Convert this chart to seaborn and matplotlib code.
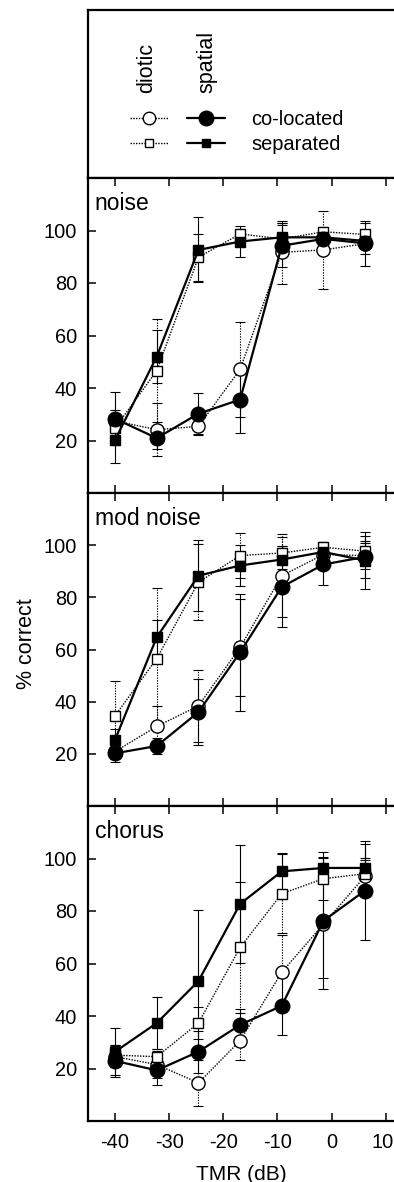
import numpy as np
import pandas as pd
import matplotlib
matplotlib.use("Agg")
import matplotlib.pyplot as plt
import matplotlib.transforms as mtransforms
import seaborn as sns
from matplotlib.lines import Line2D
from matplotlib.legend_handler import HandlerTuple

# ---------------- data ----------------
tmr = [-40, -32.3, -24.6, -16.9, -9.2, -1.5, 6.2]
panels = ["noise", "mod noise", "chorus"]

# noise
noise_col_diotic = [27.5, 24.1, 25.4, 47.1, 91.7, 92.6, 95.0]
noise_sep_diotic = [24.8, 46.6, 89.8, 98.7, 96.8, 99.5, 98.5]
noise_sep_spatial = [20.2, 52.0, 92.6, 95.8, 97.4, 97.4, 96.0]
noise_col_spatial = [28.3, 20.9, 30.2, 35.6, 94.2, 96.8, 95.1]
noise_col_diotic_err = [4, 10, 3, 18, 12, 15, 4]
noise_sep_diotic_err = [4, 19.5, 9, 2, 6, 2, 4.5]
noise_sep_spatial_err = [8.6, 10, 12.4, 6, 5.6, 3, 3]
noise_col_spatial_err = [10, 4, 8, 12.7, 8, 3, 8.5]

# modulated noise
mod_col_diotic = [20.9, 30.5, 38.4, 60.8, 88.3, 96.4, 96.0]
mod_sep_diotic = [34.6, 56.5, 85.8, 96.0, 97.0, 99.2, 97.7]
mod_sep_spatial = [25.4, 64.7, 88.3, 92.2, 94.5, 97.4, 94.1]
mod_col_spatial = [20.2, 23.0, 36.0, 58.9, 84.0, 92.6, 95.5]
mod_col_diotic_err = [3, 8, 13.7, 18.5, 16, 4, 5]
mod_sep_diotic_err = [13.2, 27, 14.6, 8.7, 6, 2, 4]
mod_sep_spatial_err = [4, 6.5, 13.5, 8, 5, 3, 10.9]
mod_col_spatial_err = [3.5, 3, 12.7, 22.4, 15.5, 7.7, 8]

# chorus
chorus_col_diotic = [24.5, 21.5, 14.5, 30.6, 56.7, 75.0, 93.3]
chorus_sep_diotic = [25.1, 24.5, 37.3, 66.1, 86.6, 92.3, 94.2]
chorus_sep_spatial = [26.4, 37.3, 53.3, 82.7, 95.1, 96.4, 96.4]
chorus_col_spatial = [22.9, 19.3, 26.4, 36.6, 43.9, 76.3, 87.8]
chorus_col_diotic_err = [4, 5, 8.7, 7.4, 14, 20.5, 6]
chorus_sep_diotic_err = [4, 3, 6, 25, 15, 8, 6]
chorus_sep_spatial_err = [9, 10, 27, 22.4, 7, 4, 9]
chorus_col_spatial_err = [6, 5.7, 8, 6, 11, 26, 18.8]

series_names = ["col_diotic", "sep_diotic", "sep_spatial", "col_spatial"]
values = {
    "noise": [noise_col_diotic, noise_sep_diotic, noise_sep_spatial, noise_col_spatial],
    "mod noise": [mod_col_diotic, mod_sep_diotic, mod_sep_spatial, mod_col_spatial],
    "chorus": [chorus_col_diotic, chorus_sep_diotic, chorus_sep_spatial, chorus_col_spatial],
}
errors = {
    "noise": [noise_col_diotic_err, noise_sep_diotic_err, noise_sep_spatial_err, noise_col_spatial_err],
    "mod noise": [mod_col_diotic_err, mod_sep_diotic_err, mod_sep_spatial_err, mod_col_spatial_err],
    "chorus": [chorus_col_diotic_err, chorus_sep_diotic_err, chorus_sep_spatial_err, chorus_col_spatial_err],
}

xticks = [-40, -30, -20, -10, 0, 10]
yticks = [20, 40, 60, 80, 100]

# ---------------- style ----------------
sns.set_theme(style="ticks", rc={
    "axes.edgecolor": "black", "text.color": "black", "axes.labelcolor": "black",
    "xtick.color": "black", "ytick.color": "black",
})
plt.rcParams["font.family"] = ["Liberation Sans", "DejaVu Sans"]
plt.rcParams["axes.unicode_minus"] = False

DOT = (0, (1, 1))
styles = {
    "col_diotic": dict(linestyle=DOT, linewidth=1.0, marker="o", markersize=9.5,
                       markerfacecolor="white", zorder=3),
    "sep_diotic": dict(linestyle=DOT, linewidth=1.0, marker="s", markersize=7.5,
                       markerfacecolor="white", zorder=3.1),
    "sep_spatial": dict(linestyle="-", linewidth=1.6, marker="s", markersize=7.5,
                        markerfacecolor="black", zorder=3.2),
    "col_spatial": dict(linestyle="-", linewidth=1.6, marker="o", markersize=10.5,
                        markerfacecolor="black", zorder=3.3),
}

W, H = 394, 1182
fig = plt.figure(figsize=(W / 100, H / 100), dpi=100)


def box(top, bottom, left=88, right=394):
    return [left / W, 1 - bottom / H, (right - left) / W, (bottom - top) / H]


ax_leg = fig.add_axes(box(10, 178))
axes = [fig.add_axes(box(178, 493)), fig.add_axes(box(493, 806)), fig.add_axes(box(806, 1121))]

for i, (ax, name) in enumerate(zip(axes, panels)):
    for s, vals, errs in zip(series_names, values[name], errors[name]):
        st = styles[s]
        eb = ax.errorbar(tmr, vals, yerr=errs, fmt="none", ecolor="black",
                         elinewidth=0.8, capsize=3.5, capthick=0.8, zorder=1)
        if st["linestyle"] is DOT:
            for lc in eb.lines[2]:
                lc.set_linestyle((0, (1.2, 1.2)))
        df = pd.DataFrame({"TMR": tmr, "pc": vals})
        sns.lineplot(data=df, x="TMR", y="pc", ax=ax, color="black", errorbar=None,
                     markeredgecolor="black", markeredgewidth=1.0, **st)
    ax.set_xlim(-45, 11.53)
    ax.set_ylim(0, 120)
    ax.set_xticks(xticks)
    ax.set_yticks(yticks)
    ax.set_xlabel("")
    ax.set_ylabel("")
    ax.tick_params(direction="in", top=True, bottom=True, left=True, right=False,
                   length=6, width=1.1, labelsize=14.4)
    ax.tick_params(axis="y", pad=8)
    ax.tick_params(axis="x", pad=9, labelbottom=(i == 2))
    ax.spines["right"].set_visible(False)
    for sp in ["top", "bottom", "left"]:
        ax.spines[sp].set_linewidth(1.6)
    ax.text(0.022, 0.918, name, transform=ax.transAxes, fontsize=16.5,
            ha="left", va="center")

axes[2].set_xlabel("TMR (dB)", fontsize=15, labelpad=9)
# keep the last tick label ("10") inside the canvas, as in the reference
last_lbl = axes[2].get_xticklabels()[-1]
last_lbl.set_transform(last_lbl.get_transform() +
                       mtransforms.ScaledTranslation(-3 / 100, 0, fig.dpi_scale_trans))
fig.text(27 / W, 1 - 644 / H, "% correct", rotation=90, ha="center", va="center", fontsize=15.5)

# ---------------- legend panel ----------------
ax_leg.set_xticks([])
ax_leg.set_yticks([])
ax_leg.spines["right"].set_visible(False)
for sp in ["top", "bottom", "left"]:
    ax_leg.spines[sp].set_linewidth(1.6)

h_cd = Line2D([], [], color="black", linestyle=DOT, linewidth=1.0, marker="o",
              markersize=9, markerfacecolor="white", markeredgecolor="black", markeredgewidth=1)
h_cs = Line2D([], [], color="black", linestyle="-", linewidth=1.6, marker="o",
              markersize=10.5, markerfacecolor="black", markeredgecolor="black")
h_sd = Line2D([], [], color="black", linestyle=DOT, linewidth=1.0, marker="s",
              markersize=6, markerfacecolor="white", markeredgecolor="black", markeredgewidth=1)
h_ss = Line2D([], [], color="black", linestyle="-", linewidth=1.6, marker="s",
              markersize=6, markerfacecolor="black", markeredgecolor="black")

ax_leg.legend([(h_cd, h_cs), (h_sd, h_ss)], ["co-located", "separated"],
              handler_map={tuple: HandlerTuple(ndivide=None, pad=0.95)},
              loc="center left", bbox_to_anchor=(0.137, 0.2756), frameon=False,
              fontsize=14.4, handlelength=4.75, handletextpad=1.3, labelspacing=0.3,
              borderpad=0, borderaxespad=0, numpoints=1)
ax_leg.text(0.193, 0.506, "diotic", rotation=90, ha="center", va="bottom",
            fontsize=15.5, transform=ax_leg.transAxes)
ax_leg.text(0.388, 0.506, "spatial", rotation=90, ha="center", va="bottom",
            fontsize=15.5, transform=ax_leg.transAxes)

fig.savefig("out.png", dpi=100)
